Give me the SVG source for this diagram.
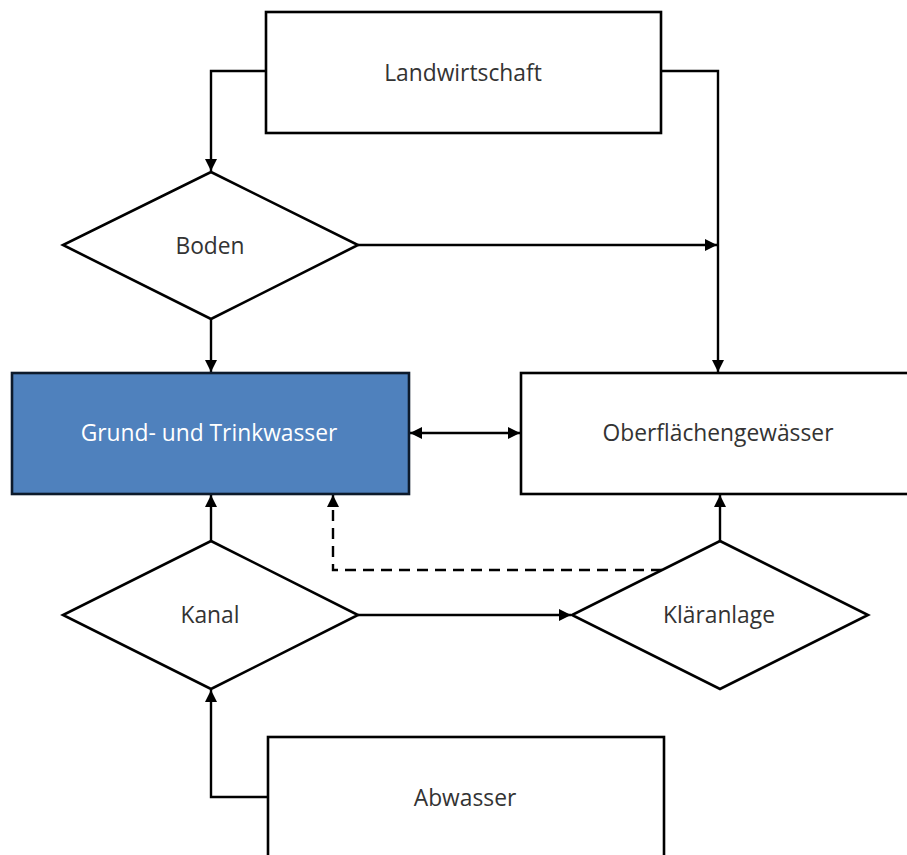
<svg xmlns="http://www.w3.org/2000/svg" width="907" height="855" viewBox="0 0 907 855">
<style>
.box{fill:#ffffff;stroke:#000000;stroke-width:2.6}
.blue{fill:#4f81bd;stroke:#0d1a2b;stroke-width:2.6}
.lbl{font-family:"Open Sans","Liberation Sans",sans-serif;font-size:22.8px;fill:#333333;text-anchor:middle}
.wlbl{fill:#ffffff}
.c{fill:none;stroke:#000000;stroke-width:2.4}
.dash{stroke-dasharray:11,7}
</style>
<defs>
<marker id="ah" viewBox="0 0 10 10" refX="10" refY="5" markerWidth="12" markerHeight="12" markerUnits="userSpaceOnUse" orient="auto-start-reverse">
<path d="M0,0 L10,5 L0,10 z" fill="#000000"/>
</marker>
</defs>
<rect width="907" height="855" fill="#ffffff"/>
<g id="connectors">
<path class="c" d="M266,71 H211 V171" marker-end="url(#ah)"/>
<path class="c" d="M661,71 H718 V372" marker-end="url(#ah)"/>
<path class="c" d="M358,245 H717" marker-end="url(#ah)"/>
<path class="c" d="M211,319 V372" marker-end="url(#ah)"/>
<path class="c" d="M410,433 H520" marker-start="url(#ah)" marker-end="url(#ah)"/>
<path class="c" d="M211,541 V495" marker-end="url(#ah)"/>
<path class="c" d="M720,541 V495" marker-end="url(#ah)"/>
<path class="c dash" d="M662,570 H333 V495" marker-end="url(#ah)"/>
<path class="c" d="M358,615 H571" marker-end="url(#ah)"/>
<path class="c" d="M268,797 H211 V690" marker-end="url(#ah)"/>
</g>
<g id="landwirtschaft">
<rect class="box" x="266" y="12" width="395" height="121"/>
<text class="lbl" x="463" y="81">Landwirtschaft</text>
</g>
<g id="boden">
<polygon class="box" points="211,172 358,245 211,319 63,245"/>
<text class="lbl" x="210" y="254">Boden</text>
</g>
<g id="grundwasser">
<rect class="blue" x="12" y="373" width="397" height="121"/>
<text class="lbl wlbl" x="209" y="441">Grund- und Trinkwasser</text>
</g>
<g id="oberflaechengewaesser">
<rect class="box" x="521" y="373" width="400" height="121"/>
<text class="lbl" x="718" y="441">Oberflächengewässer</text>
</g>
<g id="kanal">
<polygon class="box" points="211,541 358,615 211,689 63,615"/>
<text class="lbl" x="210" y="623">Kanal</text>
</g>
<g id="klaeranlage">
<polygon class="box" points="720,541 868,615 720,689 572,615"/>
<text class="lbl" x="719" y="623">Kläranlage</text>
</g>
<g id="abwasser">
<rect class="box" x="268" y="737" width="396" height="130"/>
<text class="lbl" x="465" y="806">Abwasser</text>
</g>
</svg>
